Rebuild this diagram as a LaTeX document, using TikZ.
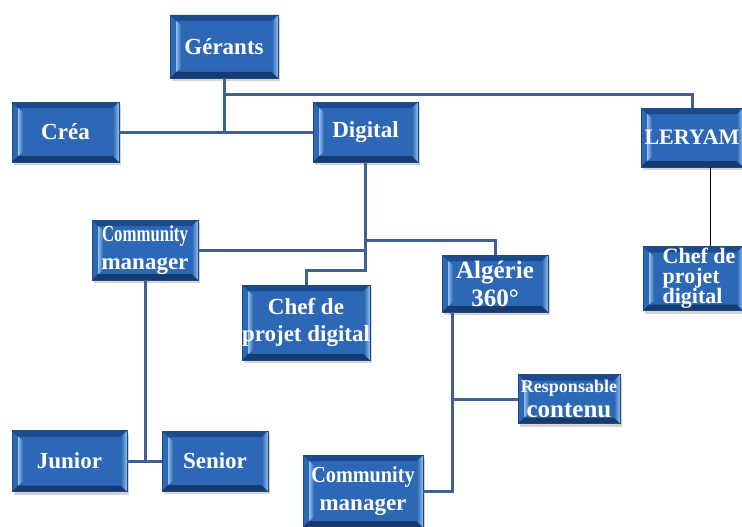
\documentclass[tikz,border=0pt]{standalone}
\usepackage{fontspec}
\setmainfont{Liberation Serif}
\usetikzlibrary{calc,shadows}
\definecolor{boxblue}{RGB}{44,104,182}
\definecolor{boxedge}{RGB}{30,72,135}
\definecolor{bevlight}{RGB}{150,192,238}
\definecolor{bevdark}{RGB}{28,74,140}
\definecolor{linecol}{RGB}{62,96,148}
\tikzset{
  orgbox/.style={draw=boxedge, line width=0.6pt, fill=boxblue, text=white,
    font=\bfseries\fontsize{23}{28}\selectfont, align=center, inner sep=2pt,
    drop shadow={shadow xshift=2pt, shadow yshift=-3pt, opacity=0.35},
    path picture={
      \fill[bevdark] (path picture bounding box.north west) -- (path picture bounding box.north east)
        -- ($(path picture bounding box.north east)+(-6pt,-6pt)$) -- ($(path picture bounding box.north west)+(6pt,-6pt)$) -- cycle;
      \fill[bevdark!80!black] (path picture bounding box.south west) -- (path picture bounding box.south east)
        -- ($(path picture bounding box.south east)+(-6pt,6pt)$) -- ($(path picture bounding box.south west)+(6pt,6pt)$) -- cycle;
      \fill[left color=bevlight, right color=boxblue] ($(path picture bounding box.north west)+(6pt,-6pt)$)
        -- ++(5pt,-4pt) -- ($(path picture bounding box.south west)+(11pt,10pt)$) -- ++(-5pt,-4pt) -- cycle;
      \fill[left color=boxblue, right color=bevlight] (path picture bounding box.north east)
        -- ($(path picture bounding box.north east)+(-6pt,-6pt)$) -- ($(path picture bounding box.south east)+(-6pt,6pt)$)
        -- (path picture bounding box.south east) -- cycle;
    }},
  orgline/.style={draw=linecol, line width=3pt},
  thinline/.style={draw=black, line width=1pt}
}
\begin{document}
\begin{tikzpicture}[x=1pt,y=-1pt]
\useasboundingbox (0,0) rectangle (742,527);
% boxes
\node[orgbox, minimum width=108pt, minimum height=63pt] (gerants) at (224,46.5) {Gérants};
\node[orgbox, minimum width=107pt, minimum height=60pt] (crea) at (65.5,132) {Créa};
\node[orgbox, minimum width=105pt, minimum height=60pt] (digital) at (365.5,132) {Digital};
\node[orgbox, minimum width=102pt, minimum height=59pt, font=\bfseries\fontsize{22}{26}\selectfont] (leryam) at (692,137.5) {LERYAM};
\node[orgbox, minimum width=100pt, minimum height=63pt, align=left, inner xsep=0pt,
  font=\bfseries\fontsize{22}{20}\selectfont] (cheflery) at (693,278.5)
  {\hspace*{12pt}Chef~de\\\hspace*{12pt}projet\\\hspace*{12pt}digital};
\node[orgbox, minimum width=106pt, minimum height=60pt] (cmone) at (145,250) {\scalebox{0.73}[1]{Community}\\manager};
\node[orgbox, minimum width=122pt, minimum height=75pt, inner sep=0pt, font=\bfseries\fontsize{23}{27}\selectfont] (chefdig) at (306,322.5) {Chef de\\projet digital};
\node[orgbox, minimum width=106pt, minimum height=57pt, font=\bfseries\fontsize{25}{28}\selectfont] (algerie) at (495,283.5) {Algérie\\360°};
\node[orgbox, minimum width=102pt, minimum height=49pt, inner sep=0pt, font=\bfseries\fontsize{25}{25}\selectfont] (resp) at (569,399) {{\fontsize{18}{19}\selectfont Responsable}\\contenu};
\node[orgbox, minimum width=115pt, minimum height=61pt] (junior) at (69.5,461) {Junior};
\node[orgbox, minimum width=106pt, minimum height=60pt] (senior) at (215,461) {Senior};
\node[orgbox, minimum width=120pt, minimum height=72pt] (cmtwo) at (363,491) {\scalebox{0.88}[1]{Community}\\manager};
% rails
\coordinate (railtop) at (0,95);
\coordinate (railalg) at (0,240);
\coordinate (railchef) at (0,270);
\coordinate (algbus) at (452,312);
% connectors
\draw[orgline] (crea.east) -- (digital.west);
\draw[orgline] (gerants.south) -- (gerants.south |- crea.east);
\draw[orgline] (gerants.south |- railtop) -- (leryam.north |- railtop) -- (leryam.north);
\draw[thinline] ([xshift=18pt]leryam.south) -- ([xshift=18pt]leryam.south |- cheflery.north);
\draw[orgline] (digital.south) -- (digital.south |- railchef) -- (chefdig.north |- railchef) -- (chefdig.north);
\draw[orgline] (digital.south |- railalg) -- (algerie.north |- railalg) -- (algerie.north);
\draw[orgline] (cmone.east) -- (digital.south |- cmone.east);
\draw[orgline] (cmone.south) -- (cmone.south |- junior.east);
\draw[orgline] (junior.east) -- (senior.west);
\draw[orgline] (algbus) -- (algbus |- cmtwo.east) -- (cmtwo.east);
\draw[orgline] (resp.west) -- (resp.west -| algbus);
\end{tikzpicture}
\end{document}
